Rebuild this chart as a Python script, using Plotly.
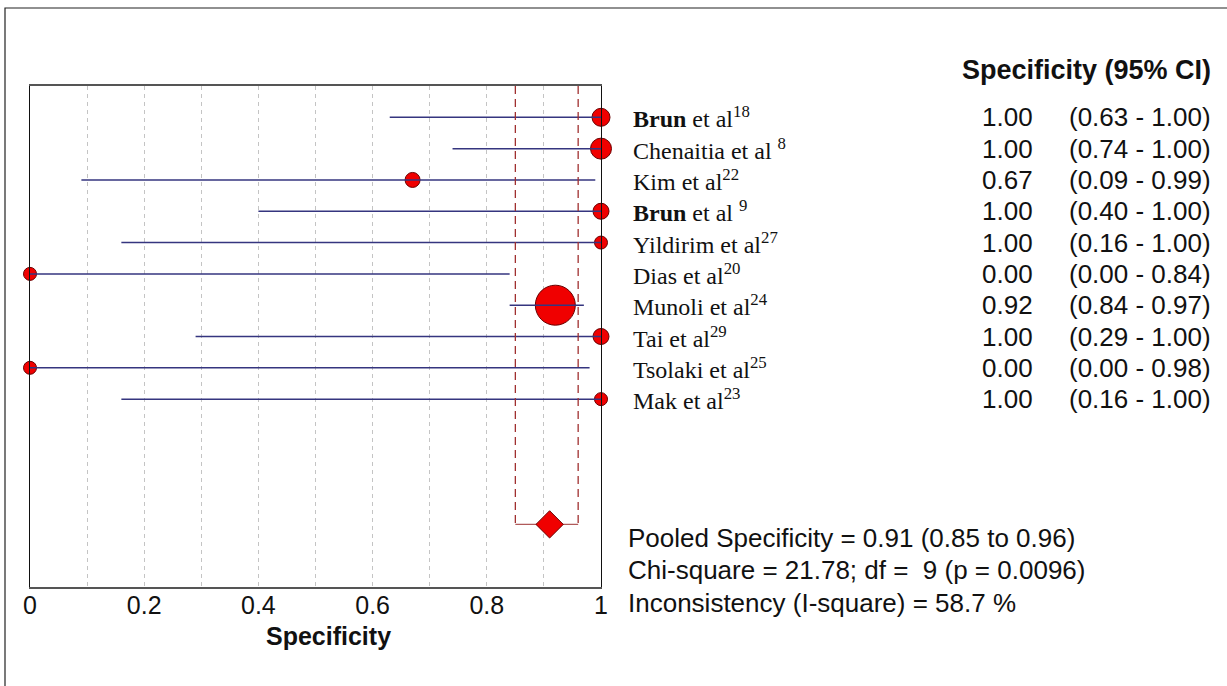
import plotly.graph_objects as go

# ---------------- data ----------------
studies = ["<b>Brun</b> et al<sup>18</sup>", "Chenaitia et al <sup>8</sup>", "Kim et al<sup>22</sup>",
           "<b>Brun</b> et al <sup>9</sup>", "Yildirim et al<sup>27</sup>", "Dias et al<sup>20</sup>",
           "Munoli et al<sup>24</sup>", "Tai et al<sup>29</sup>", "Tsolaki et al<sup>25</sup>",
           "Mak et al<sup>23</sup>"]
spec = [1.00, 1.00, 0.67, 1.00, 1.00, 0.00, 0.92, 1.00, 0.00, 1.00]
ci_low = [0.63, 0.74, 0.09, 0.40, 0.16, 0.00, 0.84, 0.29, 0.00, 0.16]
ci_high = [1.00, 1.00, 0.99, 1.00, 1.00, 0.84, 0.97, 1.00, 0.98, 1.00]
study_weight_px = [18, 21, 15, 16, 13, 13, 40, 16, 13, 13]

pooled = 0.91
pooled_low = 0.85
pooled_high = 0.96
stats_lines = ["Pooled Specificity = 0.91 (0.85 to 0.96)",
               "Chi-square = 21.78; df =  9 (p = 0.0096)",
               "Inconsistency (I-square) = 58.7 %"]
tick_vals = [0, 0.2, 0.4, 0.6, 0.8, 1]
tick_text = ["0", "0.2", "0.4", "0.6", "0.8", "1"]

rows = list(range(len(spec)))
pooled_row = 13

# ---------------- figure ----------------
W, H = 1227, 686
L, R, T, B = 30, 626, 86, 99
pw, ph = W - L - R, H - T - B


def px_x(px):
    return (px - L) / pw


def px_y(py):
    return (H - B - py) / ph


SANS = "Liberation Sans"
SERIF = "Liberation Serif"

fig = go.Figure()

# study markers
fig.add_trace(go.Scatter(
    x=spec, y=rows, mode="markers",
    marker=dict(size=study_weight_px, color="#f00000", opacity=1,
                line=dict(color="#6a0000", width=1)),
    cliponaxis=False, hoverinfo="skip", showlegend=False))

# CI lines
lx, ly = [], []
for r, lo, hi in zip(rows, ci_low, ci_high):
    lx += [lo, hi, None]
    ly += [r, r, None]
fig.add_trace(go.Scatter(x=lx, y=ly, mode="lines", line=dict(color="#35357f", width=1.5),
                         cliponaxis=False, hoverinfo="skip", showlegend=False))

# pooled CI bracket
fig.add_trace(go.Scatter(x=[pooled_low, pooled_low, None, pooled_high, pooled_high],
                         y=[-1, pooled_row, None, -1, pooled_row], mode="lines",
                         line=dict(color="#a03030", width=1.3, dash="8px,5px"),
                         hoverinfo="skip", showlegend=False))
fig.add_trace(go.Scatter(x=[pooled_low, pooled_high], y=[pooled_row, pooled_row], mode="lines",
                         line=dict(color="#b05a5a", width=1.3),
                         hoverinfo="skip", showlegend=False))
fig.add_trace(go.Scatter(x=[pooled], y=[pooled_row], mode="markers",
                         marker=dict(symbol="diamond", size=21, color="#f00000", opacity=1,
                                     line=dict(color="#6a0000", width=1)),
                         hoverinfo="skip", showlegend=False))

annotations = []
for r, s in zip(rows, studies):
    annotations.append(dict(x=px_x(631), xref="paper", y=r, yref="y", text=s, showarrow=False,
                            xanchor="left", yanchor="middle",
                            font=dict(family=SERIF, size=24, color="#111")))
for r, v, lo, hi in zip(rows, spec, ci_low, ci_high):
    annotations.append(dict(x=px_x(1035), xref="paper", y=r, yref="y", text=f"{v:.2f}",
                            showarrow=False, xanchor="right", yanchor="middle",
                            font=dict(family=SANS, size=26, color="#111")))
    annotations.append(dict(x=px_x(1213), xref="paper", y=r, yref="y", text=f"({lo:.2f} - {hi:.2f})",
                            showarrow=False, xanchor="right", yanchor="middle",
                            font=dict(family=SANS, size=26, color="#111")))
annotations.append(dict(x=px_x(1213), xref="paper", y=px_y(70), yref="paper",
                        text="<b>Specificity (95% CI)</b>", showarrow=False,
                        xanchor="right", yanchor="middle",
                        font=dict(family=SANS, size=27, color="#111")))
for py, t in zip([538, 570, 603], stats_lines):
    annotations.append(dict(x=px_x(626), xref="paper", y=px_y(py), yref="paper", text=t,
                            showarrow=False, xanchor="left", yanchor="middle",
                            font=dict(family=SANS, size=26, color="#111")))
annotations.append(dict(x=px_x(328), xref="paper", y=px_y(636), yref="paper",
                        text="<b>Specificity</b>", showarrow=False, xanchor="center",
                        yanchor="middle", font=dict(family=SANS, size=25, color="#111")))

fig.update_layout(
    width=W, height=H, margin=dict(l=L, r=R, t=T, b=B),
    paper_bgcolor="white", plot_bgcolor="white",
    annotations=annotations,
    shapes=[dict(type="rect", xref="paper", yref="paper",
                 x0=px_x(5), x1=px_x(1245), y0=px_y(700), y1=px_y(8),
                 line=dict(color="#222", width=1.2), layer="below")],
    xaxis=dict(range=[0, 1], tickvals=tick_vals, ticktext=tick_text, ticks="",
               showgrid=True, gridcolor="#c4c4c4", griddash="4px,4px", gridwidth=1,
               minor=dict(dtick=0.1, showgrid=True, gridcolor="#c4c4c4", griddash="4px,4px"),
               showline=True, linecolor="#555", linewidth=2, mirror=True, zeroline=False,
               tickfont=dict(family=SANS, size=25, color="#111"), ticklabelstandoff=-5,
               fixedrange=True),
    yaxis=dict(range=[15, -1], showticklabels=False, showgrid=False, zeroline=False,
               showline=True, linecolor="#111", linewidth=1, mirror=True, fixedrange=True),
)

fig.write_html("out.html", config={"displayModeBar": False},
               post_script="document.body.style.margin='0';document.body.style.overflow='hidden';")
